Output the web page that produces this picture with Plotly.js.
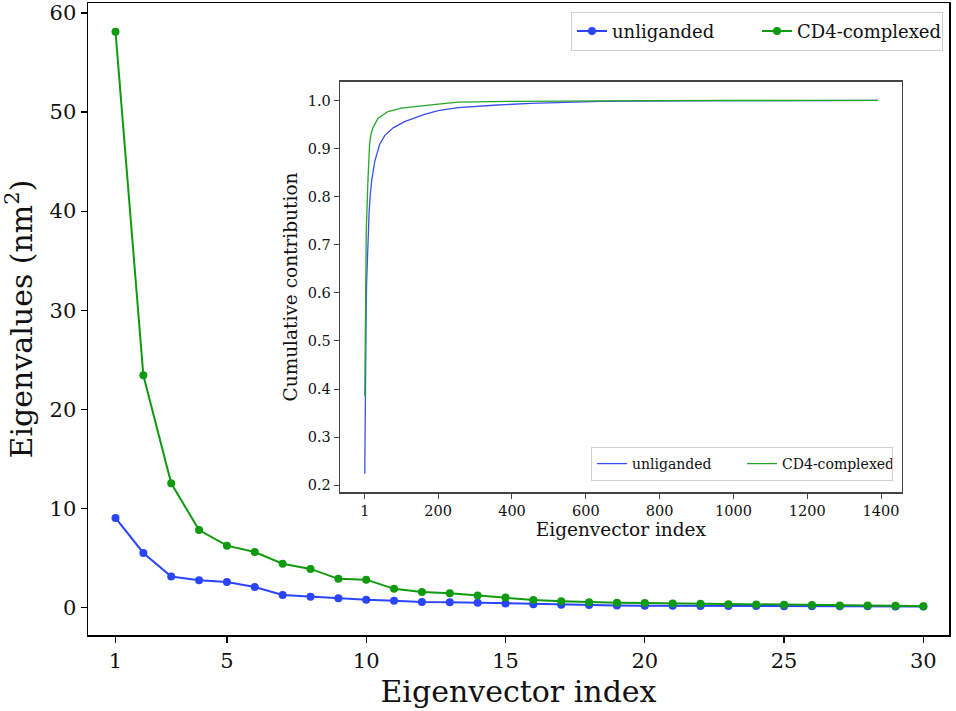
<!DOCTYPE html>
<html>
<head>
<meta charset="utf-8">
<script src="https://cdn.plot.ly/plotly-3.0.1.min.js"></script>
<style>html,body{margin:0;padding:0;background:#fff;}#chart{width:956px;height:711px;}</style>
</head>
<body>
<div id="chart"></div>
<script>
// Main chart: first 30 eigenvalues (nm^2)
const eigIndex = [1,2,3,4,5,6,7,8,9,10,11,12,13,14,15,16,17,18,19,20,21,22,23,24,25,26,27,28,29,30];
const eigUnliganded = [9.03,5.49,3.12,2.73,2.56,2.06,1.25,1.08,0.91,0.76,0.68,0.55,0.52,0.46,0.38,0.31,0.26,0.24,0.20,0.17,0.16,0.15,0.14,0.13,0.12,0.11,0.10,0.10,0.09,0.08];
const eigCD4 = [58.12,23.43,12.53,7.80,6.23,5.59,4.41,3.88,2.88,2.80,1.87,1.55,1.43,1.19,0.99,0.75,0.62,0.51,0.47,0.44,0.40,0.36,0.32,0.28,0.26,0.23,0.20,0.18,0.16,0.12];

// Inset: cumulative contribution
const cumIndexU = [1,2,3,4,5,6,8,10,13,16,20,28,41,55,78,109,163,200,254,350,450,640,800,1000,1200,1392];
const cumUnliganded = [0.224,0.36,0.44,0.50,0.57,0.62,0.68,0.72,0.77,0.804,0.835,0.873,0.908,0.927,0.943,0.956,0.971,0.979,0.985,0.990,0.994,0.998,0.999,0.9995,0.9998,1.0];
const cumIndexC = [1,2,3,4,5,6,8,10,14,18,23,37,64,100,181,254,400,600,800,1000,1200,1392];
const cumCD4 = [0.385,0.54,0.62,0.68,0.72,0.75,0.804,0.84,0.908,0.93,0.943,0.963,0.977,0.984,0.991,0.9966,0.998,0.9993,0.9997,0.9999,1.0,1.0];

const mainXTicks = [1,5,10,15,20,25,30];
const mainYTicks = [0,10,20,30,40,50,60];
const insetXTicks = [1,200,400,600,800,1000,1200,1400];
const insetYTicks = [0.2,0.3,0.4,0.5,0.6,0.7,0.8,0.9,1.0];

const blue = '#2b45ff', green = '#109a10';
const blueThin = '#3a4ff2', greenThin = '#27a527';
const font = 'DejaVu Serif, serif';

const traces = [
  {x: eigIndex, y: eigUnliganded, name: 'unliganded', mode: 'lines+markers', type: 'scatter',
   line: {color: blue, width: 2}, marker: {color: blue, size: 8}, xaxis: 'x', yaxis: 'y', legend: 'legend'},
  {x: eigIndex, y: eigCD4, name: 'CD4-complexed', mode: 'lines+markers', type: 'scatter',
   line: {color: green, width: 2}, marker: {color: green, size: 8}, xaxis: 'x', yaxis: 'y', legend: 'legend'},
  {x: cumIndexU, y: cumUnliganded, name: 'unliganded', mode: 'lines', type: 'scatter',
   line: {color: blueThin, width: 1.3}, xaxis: 'x2', yaxis: 'y2', legend: 'legend2'},
  {x: cumIndexC, y: cumCD4, name: 'CD4-complexed', mode: 'lines', type: 'scatter',
   line: {color: greenThin, width: 1.3}, xaxis: 'x2', yaxis: 'y2', legend: 'legend2'}
];

const layout = {
  width: 956, height: 711,
  margin: {l: 88, r: 7, t: 3, b: 76},
  paper_bgcolor: '#fff', plot_bgcolor: '#fff',
  font: {family: font, color: '#111'},
  showlegend: true,
  xaxis: {
    domain: [0, 1], range: [0.013, 30.92], tickvals: mainXTicks, ticktext: mainXTicks.map(String),
    showgrid: false, zeroline: false, showline: true, mirror: true, linecolor: '#000', linewidth: 1.5,
    ticks: 'outside', ticklen: 6, tickwidth: 1.2, tickcolor: '#000', tickfont: {size: 21, family: font},
    title: {text: 'Eigenvector index', font: {size: 30, family: font}, standoff: 9}
  },
  yaxis: {
    domain: [0, 1], range: [-2.79, 61.01], tickvals: mainYTicks, ticktext: mainYTicks.map(String),
    showgrid: false, zeroline: false, showline: true, mirror: true, linecolor: '#000', linewidth: 1.5,
    ticks: 'outside', ticklen: 6, tickwidth: 1.2, tickcolor: '#000', tickfont: {size: 21, family: font},
    title: {text: 'Eigenvalues (nm<sup>2</sup>)', font: {size: 30, family: font}, standoff: 10}
  },
  xaxis2: {
    domain: [0.2927, 0.9451], anchor: 'y2', range: [-66, 1456], tickvals: insetXTicks, ticktext: insetXTicks.map(String),
    showgrid: false, zeroline: false, showline: true, mirror: true, linecolor: '#444', linewidth: 1.3,
    ticks: 'outside', ticklen: 5, tickwidth: 1, tickcolor: '#444', tickfont: {size: 14.5, family: font},
    title: {text: 'Eigenvector index', font: {size: 18.5, family: font}, standoff: 3}
  },
  yaxis2: {
    domain: [0.2258, 0.8755], anchor: 'x2', range: [0.1855, 1.039], tickvals: insetYTicks, ticktext: insetYTicks.map(v => v.toFixed(1)),
    showgrid: false, zeroline: false, showline: true, mirror: true, linecolor: '#444', linewidth: 1.3,
    ticks: 'outside', ticklen: 5, tickwidth: 1, tickcolor: '#444', tickfont: {size: 14.5, family: font},
    title: {text: 'Cumulative contribution', font: {size: 18.5, family: font}, standoff: 5}
  },
  legend: {
    x: 0.993, y: 0.986, xanchor: 'right', yanchor: 'top', orientation: 'h',
    bgcolor: 'rgba(255,255,255,0.9)', bordercolor: '#d0d0d0', borderwidth: 1,
    font: {size: 18, family: font}, itemwidth: 30, entrywidth: 140
  },
  legend2: {
    x: 0.935, y: 0.2437, xanchor: 'right', yanchor: 'bottom', orientation: 'h',
    bgcolor: 'rgba(255,255,255,0.9)', bordercolor: '#d0d0d0', borderwidth: 1,
    font: {size: 14, family: font}, itemwidth: 30, entrywidth: 105
  }
};

Plotly.newPlot('chart', traces, layout, {displayModeBar: false, staticPlot: true});
</script>
</body>
</html>
